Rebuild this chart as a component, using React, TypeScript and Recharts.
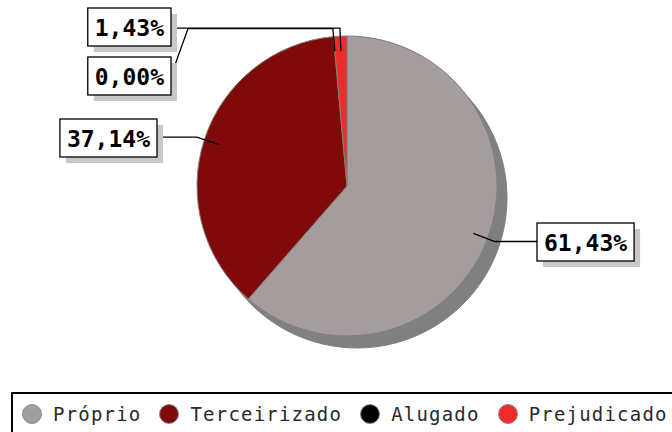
import React from 'react';
import { PieChart, Pie, Cell, Legend } from 'recharts';

const categories = ['Próprio', 'Terceirizado', 'Alugado', 'Prejudicado'];
const counts = [43, 26, 0, 1];
const colors = ['#A59D9D', '#800A0A', '#000000', '#EE2B2B'];

const data = categories.map((name, i) => ({ name, value: counts[i] }));

const CX = 347;
const CY = 186;
const R = 150;

// label box placement (attach side, attach x, box top), one per category
const labelLayout: { side: 'left' | 'right'; x: number; y: number; bendX?: number }[] = [
  { side: 'left', x: 537, y: 223 },
  { side: 'right', x: 157, y: 119 },
  { side: 'right', x: 171, y: 57, bendX: 188 },
  { side: 'right', x: 171, y: 8 },
];

const LABEL_FS = 23;
const BOX_H = 38;

const renderLabel = (props: any) => {
  const { cx, cy, midAngle, outerRadius, percent, index } = props;
  const RAD = Math.PI / 180;
  const pt = (r: number) => ({
    x: cx + r * Math.cos(-midAngle * RAD),
    y: cy + r * Math.sin(-midAngle * RAD),
  });
  const a = pt(outerRadius * 0.9);
  const e = pt(outerRadius + 8);
  const text = (percent * 100).toFixed(2).replace('.', ',') + '%';
  const w = text.length * LABEL_FS * 0.602 + 14;
  const L = labelLayout[index];
  const bx = L.side === 'left' ? L.x : L.x - w;
  const midY = L.y + BOX_H / 2;
  const hx = L.bendX ?? L.x;
  const d = `M${a.x},${a.y} L${e.x},${e.y} L${hx},${e.y} L${L.x},${midY}`;
  return (
    <g key={`lbl-${index}`}>
      <path d={d} fill="none" stroke="#000" strokeWidth={1.3} />
      <rect x={bx + 6} y={L.y + 6} width={w} height={BOX_H} fill="#C8C8C8" />
      <rect x={bx} y={L.y} width={w} height={BOX_H} fill="#fff" stroke="#000" strokeWidth={1.3} />
      <text
        x={bx + 7}
        y={midY + 8.5}
        fontFamily="'DejaVu Sans Mono', monospace"
        fontWeight="bold"
        fontSize={LABEL_FS}
        fill="#000"
      >
        {text}
      </text>
    </g>
  );
};

const renderLegend = () => (
  <div
    style={{
      boxSizing: 'border-box',
      border: '2px solid #000',
      width: 700,
      height: 52,
      paddingLeft: 9,
      background: '#fff',
    }}
  >
    <div style={{ display: 'flex', alignItems: 'center', height: 40 }}>
      {categories.map((name, i) => (
        <React.Fragment key={name}>
          <span
            style={{
              display: 'inline-block',
              boxSizing: 'border-box',
              width: 20,
              height: 20,
              borderRadius: '50%',
              background: colors[i],
              border: '1px solid #8a8a8a',
              marginRight: 11,
              flexShrink: 0,
            }}
          />
          <span
            style={{
              fontFamily: "'DejaVu Sans Mono', monospace",
              fontSize: 19,
              letterSpacing: 1.2,
              color: '#2a2a2a',
              marginRight: 18,
              whiteSpace: 'nowrap',
            }}
          >
            {name}
          </span>
        </React.Fragment>
      ))}
    </div>
  </div>
);

export default function App() {
  return (
    <div style={{ position: 'absolute', left: 0, top: 0, width: 672, height: 432, background: '#fff', overflow: 'hidden' }}>
      <PieChart width={672} height={432} margin={{ top: 0, right: 0, bottom: 0, left: 0 }}>
        <Pie
          data={data}
          dataKey="value"
          nameKey="name"
          cx={CX + 10}
          cy={CY + 12}
          outerRadius={R}
          startAngle={90}
          endAngle={-270}
          isAnimationActive={false}
          legendType="none"
          label={false}
          labelLine={false}
        >
          {data.map((d) => (
            <Cell key={`s-${d.name}`} fill="#808080" stroke="#808080" />
          ))}
        </Pie>
        <Pie
          data={data}
          dataKey="value"
          nameKey="name"
          cx={CX}
          cy={CY}
          outerRadius={R}
          startAngle={90}
          endAngle={-270}
          isAnimationActive={false}
          label={renderLabel}
          labelLine={false}
        >
          {data.map((d, i) => (
            <Cell key={`c-${d.name}`} fill={colors[i]} stroke="#808080" strokeWidth={1} />
          ))}
        </Pie>
        <Legend
          content={renderLegend}
          wrapperStyle={{ position: 'absolute', left: 11, top: 392, width: 700, height: 52 }}
        />
      </PieChart>
    </div>
  );
}
